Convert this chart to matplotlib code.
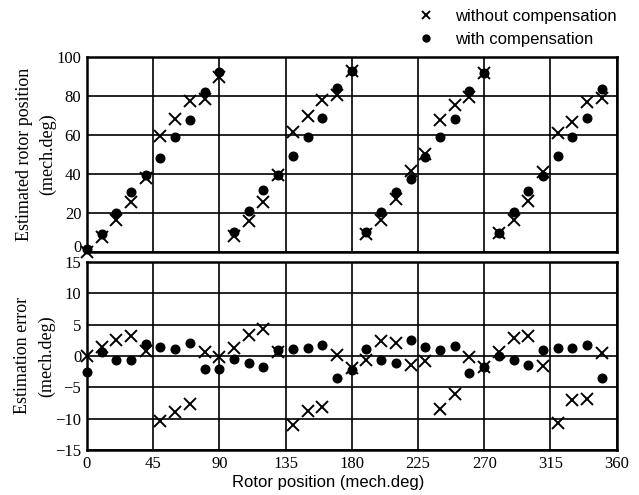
import matplotlib
matplotlib.use("Agg")
import matplotlib.pyplot as plt

# Rotor position (mech.deg), one point every 10 degrees
rotor_pos = [0, 10, 20, 30, 40, 50, 60, 70, 80, 90,
             100, 110, 120, 130, 140, 150, 160, 170, 180,
             190, 200, 210, 220, 230, 240, 250, 260, 270,
             280, 290, 300, 310, 320, 330, 340, 350]

# Estimated rotor position (mech.deg)
est_without = [0, 7.7, 16.2, 25.7, 37.8, 59.7, 68.3, 77.4, 78.4, 89.9,
               8.3, 16.0, 25.6, 39.3, 61.4, 69.6, 78.1, 80.7, 93.0,
               9.0, 16.6, 27.3, 41.4, 50.0, 67.7, 75.4, 79.6, 91.6,
               9.7, 16.6, 26.0, 41.0, 60.8, 66.8, 76.7, 79.1]
est_with = [1.7, 9.4, 20.0, 30.6, 39.5, 48.0, 58.8, 67.8, 81.9, 92.3,
            10.4, 20.9, 32.0, 39.3, 49.2, 59.1, 68.5, 84.2, 93.0,
            10.0, 20.5, 30.8, 37.6, 48.5, 59.0, 68.4, 82.6, 91.6,
            9.7, 20.4, 31.2, 39.0, 49.2, 58.9, 68.5, 83.5]

# Estimation error (mech.deg)
err_without = [0.0, 1.4, 2.5, 3.1, 0.8, -10.4, -9.0, -7.7, 0.6, -0.2,
               1.3, 3.3, 4.3, 0.6, -11.0, -8.8, -8.1, 0.1, -2.0,
               -0.6, 2.4, 2.0, -1.4, -0.8, -8.5, -6.1, -0.1, -1.8,
               0.6, 2.8, 3.2, -1.6, -10.7, -7.1, -6.8, 0.4]
err_with = [-2.6, 0.6, -0.6, -0.7, 1.9, 1.4, 1.1, 2.1, -2.1, -2.1,
            -0.5, -1.2, -1.8, 1.0, 1.1, 1.2, 1.8, -3.6, -2.3,
            1.1, -0.7, -1.2, 2.5, 1.5, 1.0, 1.6, -2.8, -1.8,
            0.0, -0.6, -1.4, 1.0, 1.2, 1.3, 1.8, -3.5]

serif = "Liberation Serif"
sans = "Liberation Sans"

fig = plt.figure(figsize=(6.39, 4.95), dpi=100)
ax1 = fig.add_axes([0.136, 0.491, 0.829, 0.394])
ax2 = fig.add_axes([0.136, 0.091, 0.829, 0.38])

xkw = dict(ls="none", marker="x", color="black", markersize=8, markeredgewidth=1.4, clip_on=False)
okw = dict(ls="none", marker="o", color="black", markersize=6.2, clip_on=False)

h1, = ax1.plot(rotor_pos, est_without, **xkw)
h2, = ax1.plot(rotor_pos, est_with, **okw)
ax2.plot(rotor_pos, err_without, **xkw)
ax2.plot(rotor_pos, err_with, **okw)

for ax in (ax1, ax2):
    ax.set_xlim(0, 360)
    ax.set_xticks(range(0, 361, 45))
    ax.grid(True, color="black", linewidth=1.2)
    ax.tick_params(length=0, labelsize=12, pad=4)
    for s in ax.spines.values():
        s.set_linewidth(1.8)
    for lab in ax.get_xticklabels() + ax.get_yticklabels():
        lab.set_family(serif)

ax1.set_ylim(0, 100)
ax1.set_yticks(range(0, 101, 20))
ax1.tick_params(labelbottom=False)
# lift the top panel's "0" a little so it clears the "15" below
ax1.get_yticklabels()[0].set_va("baseline")

ax2.set_ylim(-15, 15)
ax2.set_yticks(range(-15, 16, 5))

ax1.set_ylabel("Estimated rotor position\n(mech.deg)", family=serif, fontsize=13,
               labelpad=0, linespacing=1.5)
ax2.set_ylabel("Estimation error\n(mech.deg)", family=serif, fontsize=13,
               labelpad=0, linespacing=1.5)

fig.text(328 / 639, 1 - 483 / 495, "Rotor position (mech.deg)", family=sans,
         fontsize=12, ha="center", va="center")

fig.legend([h1, h2], ["without compensation", "with compensation"],
           loc="upper left", bbox_to_anchor=(403 / 639, 1.012), frameon=False,
           prop={"family": sans, "size": 12}, handlelength=1.0, handletextpad=1.2,
           labelspacing=0.45, markerscale=0.8)

fig.savefig("out.png", dpi=100)
